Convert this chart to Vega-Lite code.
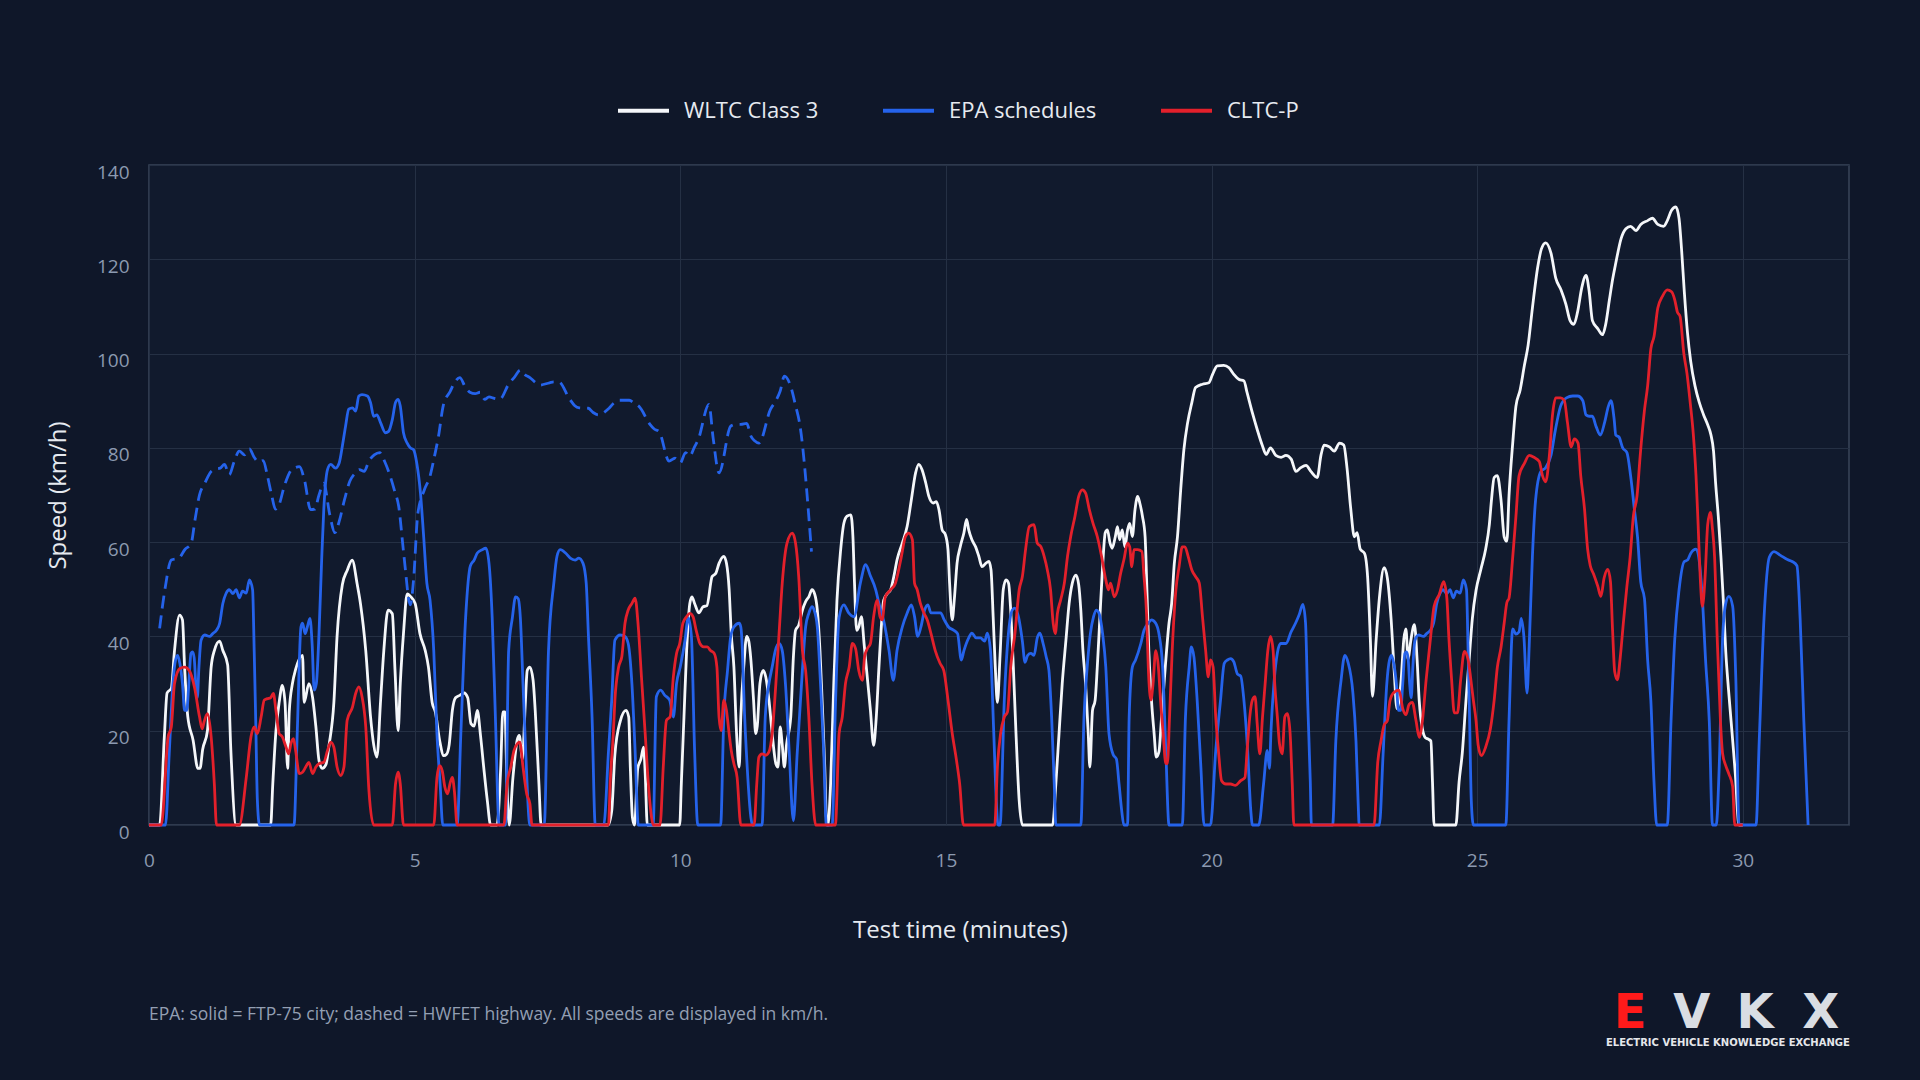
{
"$schema": "https://vega.github.io/schema/vega-lite/v6.json",
"width": 1700,
"height": 660,
"autosize": {"type": "none"},
"padding": {"left": 149, "top": 165, "right": 71, "bottom": 255},
"background": "#0f1729",
"config": {
  "font": "Open Sans",
  "view": {"fill": "#111a2d", "stroke": "#3a4559", "strokeWidth": 1.5},
  "axis": {"gridColor": "#253044", "gridWidth": 1, "domain": false, "ticks": false, "labelColor": "#8c9ab0", "labelFontSize": 19, "titleColor": "#e6eaf0", "titleFontSize": 24, "titleFontWeight": "normal"}
},
"datasets": {
"wltc": [{"t":0,"v":0},{"t":0.2,"v":0},{"t":0.29,"v":19},{"t":0.34,"v":28},{"t":0.42,"v":29},{"t":0.48,"v":37},{"t":0.575,"v":44.5},{"t":0.63,"v":43.5},{"t":0.67,"v":33.5},{"t":0.73,"v":23},{"t":0.83,"v":18},{"t":0.92,"v":12},{"t":0.96,"v":12},{"t":1.01,"v":16},{"t":1.1,"v":20},{"t":1.17,"v":33.5},{"t":1.23,"v":37},{"t":1.33,"v":39},{"t":1.39,"v":37},{"t":1.48,"v":34},{"t":1.54,"v":16},{"t":1.64,"v":0},{"t":2.29,"v":0},{"t":2.33,"v":8.7},{"t":2.39,"v":20},{"t":2.45,"v":26},{"t":2.51,"v":29.6},{"t":2.56,"v":26},{"t":2.61,"v":12},{"t":2.64,"v":24},{"t":2.7,"v":30},{"t":2.76,"v":33},{"t":2.89,"v":36},{"t":2.92,"v":26},{"t":3.01,"v":30},{"t":3.08,"v":27},{"t":3.14,"v":21},{"t":3.2,"v":13.7},{"t":3.26,"v":12},{"t":3.33,"v":12.8},{"t":3.39,"v":17},{"t":3.48,"v":26},{"t":3.54,"v":40},{"t":3.64,"v":51},{"t":3.73,"v":54},{"t":3.825,"v":56.2},{"t":3.92,"v":51},{"t":3.98,"v":47},{"t":4.08,"v":37},{"t":4.17,"v":23},{"t":4.23,"v":17},{"t":4.29,"v":14.4},{"t":4.36,"v":26.5},{"t":4.42,"v":37},{"t":4.5,"v":45.6},{"t":4.58,"v":44.8},{"t":4.63,"v":33},{"t":4.69,"v":20},{"t":4.73,"v":30},{"t":4.79,"v":40.6},{"t":4.86,"v":49},{"t":4.92,"v":48.5},{"t":5.01,"v":47},{"t":5.1,"v":40.6},{"t":5.2,"v":37},{"t":5.26,"v":33.5},{"t":5.33,"v":26},{"t":5.39,"v":24},{"t":5.47,"v":18},{"t":5.55,"v":14.7},{"t":5.6,"v":15},{"t":5.65,"v":17},{"t":5.71,"v":24.3},{"t":5.77,"v":27},{"t":5.85,"v":27.5},{"t":5.93,"v":28},{"t":6.0,"v":27},{"t":6.06,"v":21.5},{"t":6.12,"v":21},{"t":6.18,"v":24.3},{"t":6.24,"v":19},{"t":6.3,"v":12.3},{"t":6.37,"v":5},{"t":6.43,"v":0},{"t":6.55,"v":0},{"t":6.62,"v":12},{"t":6.66,"v":24},{"t":6.7,"v":24},{"t":6.74,"v":8},{"t":6.78,"v":0},{"t":6.85,"v":10},{"t":6.93,"v":18},{"t":6.97,"v":19},{"t":7.03,"v":14},{"t":7.08,"v":25},{"t":7.12,"v":32.8},{"t":7.17,"v":33.5},{"t":7.23,"v":30.7},{"t":7.27,"v":24.3},{"t":7.34,"v":8.7},{"t":7.38,"v":0},{"t":8.64,"v":0},{"t":8.71,"v":3},{"t":8.77,"v":15},{"t":8.87,"v":22},{"t":8.98,"v":24.3},{"t":9.03,"v":22.9},{"t":9.06,"v":12.3},{"t":9.1,"v":1.6},{"t":9.14,"v":0},{"t":9.2,"v":12},{"t":9.26,"v":14},{"t":9.31,"v":16.5},{"t":9.34,"v":11},{"t":9.38,"v":0},{"t":9.99,"v":0},{"t":10.02,"v":8.7},{"t":10.07,"v":22.9},{"t":10.12,"v":37},{"t":10.18,"v":47},{"t":10.22,"v":48.4},{"t":10.27,"v":47},{"t":10.35,"v":45},{"t":10.43,"v":46.3},{"t":10.5,"v":46.5},{"t":10.6,"v":52.7},{"t":10.67,"v":53.4},{"t":10.73,"v":55.5},{"t":10.82,"v":57},{"t":10.87,"v":55.5},{"t":10.92,"v":50},{"t":10.96,"v":40.6},{"t":11.01,"v":33.5},{"t":11.06,"v":19.4},{"t":11.11,"v":12.3},{"t":11.14,"v":22.9},{"t":11.2,"v":34.3},{"t":11.25,"v":40},{"t":11.29,"v":39},{"t":11.33,"v":35},{"t":11.38,"v":26.5},{"t":11.42,"v":19.4},{"t":11.45,"v":21},{"t":11.5,"v":30},{"t":11.56,"v":32.8},{"t":11.61,"v":31.4},{"t":11.67,"v":26.5},{"t":11.73,"v":19.4},{"t":11.8,"v":13},{"t":11.84,"v":12.3},{"t":11.88,"v":20.8},{"t":11.92,"v":17},{"t":11.96,"v":12.3},{"t":12.0,"v":17},{"t":12.08,"v":22.9},{"t":12.13,"v":35.7},{"t":12.17,"v":41.3},{"t":12.23,"v":42.4},{"t":12.3,"v":45.6},{"t":12.36,"v":47.4},{"t":12.42,"v":48.4},{"t":12.48,"v":49.9},{"t":12.53,"v":49},{"t":12.58,"v":45.6},{"t":12.63,"v":37},{"t":12.67,"v":26.5},{"t":12.72,"v":12.3},{"t":12.75,"v":1.6},{"t":12.78,"v":0},{"t":12.83,"v":8.7},{"t":12.89,"v":30},{"t":12.95,"v":47.7},{"t":13.02,"v":58.4},{"t":13.08,"v":64},{"t":13.14,"v":65.5},{"t":13.21,"v":65.8},{"t":13.25,"v":61.2},{"t":13.28,"v":51.3},{"t":13.32,"v":41.3},{"t":13.36,"v":42},{"t":13.41,"v":44.2},{"t":13.46,"v":38.5},{"t":13.52,"v":31.4},{"t":13.58,"v":24.3},{"t":13.64,"v":16.9},{"t":13.69,"v":22.9},{"t":13.74,"v":33.5},{"t":13.78,"v":41.3},{"t":13.83,"v":47.7},{"t":13.9,"v":49.1},{"t":13.96,"v":49.9},{"t":14.02,"v":52.7},{"t":14.08,"v":56.2},{"t":14.18,"v":59.8},{"t":14.27,"v":63.3},{"t":14.35,"v":69},{"t":14.43,"v":74.7},{"t":14.49,"v":76.5},{"t":14.55,"v":75.4},{"t":14.62,"v":72.6},{"t":14.68,"v":69.7},{"t":14.76,"v":68.3},{"t":14.82,"v":68.6},{"t":14.87,"v":66.9},{"t":14.93,"v":62.6},{"t":14.99,"v":61.6},{"t":15.04,"v":58.4},{"t":15.07,"v":51.3},{"t":15.12,"v":43.5},{"t":15.16,"v":48},{"t":15.21,"v":55.5},{"t":15.27,"v":59},{"t":15.34,"v":62},{"t":15.39,"v":64.8},{"t":15.43,"v":62.6},{"t":15.49,"v":60.5},{"t":15.56,"v":59},{"t":15.62,"v":57},{"t":15.68,"v":54.8},{"t":15.75,"v":55.5},{"t":15.81,"v":55.9},{"t":15.85,"v":54.1},{"t":15.89,"v":44.2},{"t":15.93,"v":33.5},{"t":15.97,"v":26},{"t":16.02,"v":36},{"t":16.08,"v":49.9},{"t":16.13,"v":52},{"t":16.18,"v":51.3},{"t":16.22,"v":45.6},{"t":16.27,"v":33.5},{"t":16.32,"v":19.4},{"t":16.38,"v":5.2},{"t":16.44,"v":0},{"t":17.01,"v":0},{"t":17.07,"v":8.7},{"t":17.13,"v":19.4},{"t":17.19,"v":30},{"t":17.26,"v":39.2},{"t":17.32,"v":47},{"t":17.38,"v":51.3},{"t":17.45,"v":53},{"t":17.5,"v":51},{"t":17.54,"v":45.6},{"t":17.58,"v":37},{"t":17.63,"v":30},{"t":17.68,"v":19.4},{"t":17.71,"v":12.3},{"t":17.76,"v":24.3},{"t":17.81,"v":26.5},{"t":17.85,"v":33.5},{"t":17.9,"v":44.2},{"t":17.95,"v":54.8},{"t":18.0,"v":62},{"t":18.04,"v":62.6},{"t":18.09,"v":59.8},{"t":18.13,"v":58.7},{"t":18.19,"v":61.2},{"t":18.23,"v":63.3},{"t":18.27,"v":60.5},{"t":18.32,"v":62.6},{"t":18.37,"v":59},{"t":18.42,"v":62.6},{"t":18.46,"v":64},{"t":18.51,"v":61.2},{"t":18.56,"v":66.9},{"t":18.61,"v":69.7},{"t":18.65,"v":68.3},{"t":18.7,"v":65.5},{"t":18.75,"v":61.2},{"t":18.79,"v":47.7},{"t":18.82,"v":37},{"t":18.87,"v":26.5},{"t":18.92,"v":19.4},{"t":18.96,"v":14.4},{"t":19.01,"v":15.5},{"t":19.06,"v":22.9},{"t":19.13,"v":33.5},{"t":19.2,"v":42.8},{"t":19.25,"v":47},{"t":19.3,"v":55.5},{"t":19.36,"v":61.2},{"t":19.42,"v":71.1},{"t":19.48,"v":79.6},{"t":19.55,"v":85.3},{"t":19.63,"v":89.6},{"t":19.7,"v":92.8},{"t":19.83,"v":93.5},{"t":19.95,"v":93.8},{"t":20.02,"v":95.6},{"t":20.11,"v":97.4},{"t":20.23,"v":97.5},{"t":20.33,"v":97},{"t":20.42,"v":95.6},{"t":20.52,"v":94.5},{"t":20.61,"v":94.2},{"t":20.67,"v":91.7},{"t":20.77,"v":87.4},{"t":20.86,"v":83.9},{"t":20.96,"v":80.4},{"t":21.03,"v":78.6},{"t":21.11,"v":80},{"t":21.21,"v":78.4},{"t":21.31,"v":78},{"t":21.4,"v":78.4},{"t":21.5,"v":77.6},{"t":21.59,"v":75},{"t":21.68,"v":75.8},{"t":21.78,"v":76.3},{"t":21.87,"v":75},{"t":21.99,"v":73.7},{"t":22.06,"v":78.4},{"t":22.12,"v":80.6},{"t":22.22,"v":80.2},{"t":22.31,"v":79.3},{"t":22.41,"v":81},{"t":22.49,"v":80.6},{"t":22.55,"v":75.8},{"t":22.62,"v":67.2},{"t":22.69,"v":61.1},{"t":22.74,"v":62},{"t":22.8,"v":58.5},{"t":22.88,"v":57.6},{"t":22.94,"v":52.4},{"t":22.99,"v":39.4},{"t":23.03,"v":27.3},{"t":23.1,"v":39.4},{"t":23.16,"v":48.1},{"t":23.25,"v":54.6},{"t":23.31,"v":52.4},{"t":23.38,"v":43.8},{"t":23.44,"v":32.5},{"t":23.49,"v":24.7},{"t":23.57,"v":30.8},{"t":23.62,"v":39.4},{"t":23.66,"v":41.6},{"t":23.7,"v":35.1},{"t":23.75,"v":39},{"t":23.82,"v":42.5},{"t":23.87,"v":35.1},{"t":23.91,"v":26.4},{"t":23.97,"v":20.4},{"t":24.02,"v":18.6},{"t":24.08,"v":18.2},{"t":24.13,"v":17.8},{"t":24.16,"v":9.1},{"t":24.19,"v":0},{"t":24.6,"v":0},{"t":24.66,"v":9.1},{"t":24.72,"v":15.2},{"t":24.79,"v":26.4},{"t":24.85,"v":35.1},{"t":24.91,"v":43.8},{"t":24.98,"v":49.8},{"t":25.07,"v":54.2},{"t":25.16,"v":58.5},{"t":25.23,"v":63.7},{"t":25.27,"v":68.9},{"t":25.32,"v":73.7},{"t":25.38,"v":74.1},{"t":25.45,"v":68.9},{"t":25.51,"v":61.1},{"t":25.56,"v":60.2},{"t":25.6,"v":69.8},{"t":25.67,"v":81},{"t":25.73,"v":88.8},{"t":25.81,"v":92.3},{"t":25.89,"v":97.5},{"t":25.96,"v":101.8},{"t":26.04,"v":109.6},{"t":26.14,"v":118.3},{"t":26.21,"v":122.2},{"t":26.29,"v":123.5},{"t":26.39,"v":121.3},{"t":26.48,"v":116},{"t":26.58,"v":113.5},{"t":26.67,"v":110.5},{"t":26.75,"v":107},{"t":26.82,"v":106.2},{"t":26.89,"v":108.8},{"t":26.97,"v":114},{"t":27.05,"v":116.6},{"t":27.11,"v":113.1},{"t":27.17,"v":107},{"t":27.27,"v":105.3},{"t":27.36,"v":104},{"t":27.42,"v":106.2},{"t":27.49,"v":111.4},{"t":27.55,"v":115.7},{"t":27.61,"v":119.2},{"t":27.71,"v":124.4},{"t":27.8,"v":126.5},{"t":27.89,"v":127},{"t":27.99,"v":126.1},{"t":28.08,"v":127.4},{"t":28.21,"v":128.2},{"t":28.3,"v":128.7},{"t":28.4,"v":127.4},{"t":28.51,"v":127},{"t":28.58,"v":128.2},{"t":28.66,"v":130.4},{"t":28.74,"v":131.1},{"t":28.8,"v":128.7},{"t":28.85,"v":121.8},{"t":28.9,"v":113.1},{"t":28.96,"v":104.4},{"t":29.02,"v":98.4},{"t":29.1,"v":93.2},{"t":29.18,"v":89.7},{"t":29.26,"v":87.1},{"t":29.34,"v":84.9},{"t":29.4,"v":82.8},{"t":29.45,"v":79.3},{"t":29.49,"v":72.4},{"t":29.54,"v":65.4},{"t":29.59,"v":56.8},{"t":29.64,"v":46.4},{"t":29.68,"v":36.8},{"t":29.73,"v":29},{"t":29.78,"v":22.1},{"t":29.83,"v":15.2},{"t":29.87,"v":9.1},{"t":29.9,"v":3},{"t":29.93,"v":0},{"t":30,"v":0}],
"ftp": [{"t":0,"v":0},{"t":0.31,"v":0},{"t":0.38,"v":15},{"t":0.45,"v":30},{"t":0.5,"v":35},{"t":0.54,"v":36},{"t":0.58,"v":34.3},{"t":0.63,"v":30},{"t":0.67,"v":24.3},{"t":0.71,"v":24.3},{"t":0.75,"v":30},{"t":0.79,"v":36.4},{"t":0.82,"v":36.7},{"t":0.85,"v":35.5},{"t":0.88,"v":30},{"t":0.91,"v":27},{"t":0.94,"v":33.5},{"t":0.98,"v":39.2},{"t":1.05,"v":40.3},{"t":1.14,"v":40},{"t":1.2,"v":40.6},{"t":1.27,"v":41.3},{"t":1.33,"v":42.8},{"t":1.39,"v":47},{"t":1.45,"v":49.1},{"t":1.51,"v":49.9},{"t":1.58,"v":49.1},{"t":1.64,"v":49.9},{"t":1.7,"v":48.2},{"t":1.76,"v":49.6},{"t":1.83,"v":49.2},{"t":1.89,"v":52},{"t":1.95,"v":49.9},{"t":1.98,"v":37},{"t":2.01,"v":21.5},{"t":2.04,"v":5.2},{"t":2.08,"v":0},{"t":2.73,"v":0},{"t":2.79,"v":19.4},{"t":2.86,"v":42},{"t":2.89,"v":42.8},{"t":2.94,"v":40.6},{"t":2.98,"v":42},{"t":3.03,"v":43.8},{"t":3.07,"v":38.5},{"t":3.11,"v":28.6},{"t":3.15,"v":30},{"t":3.2,"v":40.6},{"t":3.25,"v":56.2},{"t":3.29,"v":66.9},{"t":3.36,"v":75.4},{"t":3.42,"v":76.5},{"t":3.51,"v":75.7},{"t":3.58,"v":76.8},{"t":3.64,"v":80.4},{"t":3.7,"v":84.6},{"t":3.76,"v":88.2},{"t":3.83,"v":88.5},{"t":3.89,"v":87.8},{"t":3.95,"v":91},{"t":4.01,"v":91.3},{"t":4.11,"v":91},{"t":4.17,"v":89.6},{"t":4.23,"v":86.7},{"t":4.29,"v":87},{"t":4.36,"v":85.3},{"t":4.45,"v":83.2},{"t":4.51,"v":83.5},{"t":4.58,"v":86},{"t":4.64,"v":89.6},{"t":4.69,"v":90.3},{"t":4.73,"v":88.9},{"t":4.79,"v":83.2},{"t":4.86,"v":81},{"t":4.92,"v":80},{"t":4.98,"v":79.6},{"t":5.04,"v":76.8},{"t":5.11,"v":70.4},{"t":5.17,"v":61.2},{"t":5.23,"v":51.3},{"t":5.29,"v":47.7},{"t":5.36,"v":37},{"t":5.42,"v":19.4},{"t":5.48,"v":8.7},{"t":5.53,"v":0},{"t":5.8,"v":0},{"t":5.87,"v":19.4},{"t":5.96,"v":44},{"t":6.05,"v":55},{"t":6.12,"v":56.2},{"t":6.18,"v":57.7},{"t":6.27,"v":58.4},{"t":6.34,"v":58.7},{"t":6.4,"v":55.5},{"t":6.46,"v":44},{"t":6.52,"v":23},{"t":6.59,"v":0},{"t":6.71,"v":0},{"t":6.77,"v":37},{"t":6.84,"v":44},{"t":6.9,"v":48.4},{"t":6.95,"v":48},{"t":6.99,"v":44},{"t":7.04,"v":30},{"t":7.09,"v":15.8},{"t":7.17,"v":0},{"t":7.44,"v":0},{"t":7.52,"v":37},{"t":7.62,"v":51.3},{"t":7.68,"v":57},{"t":7.74,"v":58.4},{"t":7.84,"v":57.7},{"t":7.93,"v":56.6},{"t":8.02,"v":56.2},{"t":8.09,"v":56.6},{"t":8.17,"v":55.5},{"t":8.23,"v":51.3},{"t":8.27,"v":40.6},{"t":8.34,"v":22.9},{"t":8.4,"v":0},{"t":8.56,"v":0},{"t":8.65,"v":15.8},{"t":8.71,"v":26.5},{"t":8.77,"v":39.2},{"t":8.87,"v":40.3},{"t":8.96,"v":40},{"t":9.02,"v":38.5},{"t":9.09,"v":30},{"t":9.15,"v":15.8},{"t":9.21,"v":0},{"t":9.49,"v":0},{"t":9.55,"v":27.2},{"t":9.63,"v":28.6},{"t":9.71,"v":27.5},{"t":9.8,"v":26.5},{"t":9.87,"v":22.9},{"t":9.93,"v":30},{"t":10.0,"v":33.5},{"t":10.09,"v":39.2},{"t":10.15,"v":44},{"t":10.21,"v":40},{"t":10.27,"v":15.8},{"t":10.33,"v":0},{"t":10.76,"v":0},{"t":10.82,"v":22.9},{"t":10.89,"v":32.8},{"t":10.95,"v":40},{"t":11.01,"v":42},{"t":11.11,"v":42.8},{"t":11.14,"v":42},{"t":11.17,"v":37},{"t":11.2,"v":26.5},{"t":11.26,"v":12.3},{"t":11.33,"v":1.6},{"t":11.36,"v":0},{"t":11.54,"v":0},{"t":11.6,"v":22.9},{"t":11.67,"v":30},{"t":11.73,"v":33.5},{"t":11.79,"v":37},{"t":11.86,"v":38.5},{"t":11.92,"v":37},{"t":11.98,"v":30},{"t":12.05,"v":15.8},{"t":12.13,"v":0.9},{"t":12.2,"v":15},{"t":12.3,"v":33},{"t":12.36,"v":42},{"t":12.42,"v":44.9},{"t":12.48,"v":46.3},{"t":12.52,"v":45.6},{"t":12.58,"v":42},{"t":12.64,"v":30},{"t":12.7,"v":15.8},{"t":12.75,"v":0},{"t":12.86,"v":0},{"t":12.92,"v":25},{"t":12.99,"v":44},{"t":13.08,"v":46.7},{"t":13.17,"v":45},{"t":13.27,"v":44.2},{"t":13.39,"v":51.3},{"t":13.49,"v":55.2},{"t":13.58,"v":52.8},{"t":13.68,"v":49.9},{"t":13.74,"v":47},{"t":13.84,"v":42.8},{"t":13.93,"v":37},{"t":14.01,"v":30.7},{"t":14.08,"v":37},{"t":14.18,"v":42},{"t":14.27,"v":44.9},{"t":14.35,"v":46.7},{"t":14.41,"v":44.2},{"t":14.47,"v":40},{"t":14.53,"v":42},{"t":14.6,"v":45.6},{"t":14.66,"v":46.7},{"t":14.72,"v":45},{"t":14.8,"v":45},{"t":14.9,"v":45},{"t":14.97,"v":43.5},{"t":15.05,"v":42},{"t":15.15,"v":41.3},{"t":15.22,"v":40.6},{"t":15.29,"v":35},{"t":15.34,"v":37},{"t":15.43,"v":39.7},{"t":15.49,"v":40.7},{"t":15.57,"v":39.7},{"t":15.65,"v":39.7},{"t":15.73,"v":39},{"t":15.78,"v":40.7},{"t":15.84,"v":37},{"t":15.9,"v":20},{"t":15.95,"v":5},{"t":15.98,"v":0},{"t":16.02,"v":0},{"t":16.1,"v":26.5},{"t":16.19,"v":42},{"t":16.25,"v":45.6},{"t":16.3,"v":46},{"t":16.37,"v":44},{"t":16.44,"v":39},{"t":16.49,"v":34.5},{"t":16.54,"v":36},{"t":16.6,"v":36.4},{"t":16.66,"v":36},{"t":16.72,"v":39.7},{"t":16.77,"v":40.7},{"t":16.83,"v":38.5},{"t":16.89,"v":35.6},{"t":16.94,"v":32.8},{"t":16.99,"v":23},{"t":17.04,"v":8.7},{"t":17.07,"v":0},{"t":17.54,"v":0},{"t":17.6,"v":22.9},{"t":17.66,"v":33.5},{"t":17.72,"v":40.6},{"t":17.78,"v":44.2},{"t":17.83,"v":45.6},{"t":17.88,"v":45},{"t":17.95,"v":40.6},{"t":18.01,"v":33.5},{"t":18.07,"v":19.4},{"t":18.15,"v":14.9},{"t":18.21,"v":14},{"t":18.26,"v":8.7},{"t":18.31,"v":3},{"t":18.35,"v":0},{"t":18.42,"v":0},{"t":18.45,"v":22.9},{"t":18.51,"v":33.5},{"t":18.57,"v":35},{"t":18.67,"v":38.5},{"t":18.73,"v":41.3},{"t":18.81,"v":42.8},{"t":18.87,"v":43.5},{"t":18.95,"v":42.8},{"t":19.01,"v":40.6},{"t":19.08,"v":33.5},{"t":19.14,"v":15.8},{"t":19.2,"v":0},{"t":19.45,"v":0},{"t":19.51,"v":22.9},{"t":19.58,"v":33.5},{"t":19.62,"v":37.8},{"t":19.67,"v":35.6},{"t":19.73,"v":26.5},{"t":19.8,"v":12.3},{"t":19.86,"v":0},{"t":19.98,"v":0},{"t":20.08,"v":15.8},{"t":20.17,"v":26.5},{"t":20.24,"v":34.3},{"t":20.3,"v":35},{"t":20.36,"v":35.3},{"t":20.42,"v":34.6},{"t":20.49,"v":32},{"t":20.55,"v":31.6},{"t":20.61,"v":26.5},{"t":20.68,"v":15.8},{"t":20.74,"v":3},{"t":20.77,"v":0},{"t":20.89,"v":0},{"t":20.98,"v":8.7},{"t":21.05,"v":15.8},{"t":21.09,"v":12},{"t":21.12,"v":20},{"t":21.18,"v":30.7},{"t":21.24,"v":36.5},{"t":21.3,"v":38.5},{"t":21.4,"v":38.5},{"t":21.5,"v":41},{"t":21.59,"v":43},{"t":21.65,"v":44.6},{"t":21.72,"v":46.8},{"t":21.77,"v":42.9},{"t":21.81,"v":26.4},{"t":21.86,"v":9},{"t":21.88,"v":0},{"t":22.28,"v":0},{"t":22.34,"v":17.8},{"t":22.44,"v":30.8},{"t":22.51,"v":36},{"t":22.57,"v":34.5},{"t":22.66,"v":28.2},{"t":22.72,"v":17.8},{"t":22.76,"v":4.8},{"t":22.78,"v":0},{"t":23.16,"v":0},{"t":23.23,"v":15},{"t":23.3,"v":30},{"t":23.35,"v":35},{"t":23.39,"v":36},{"t":23.43,"v":34.3},{"t":23.48,"v":30},{"t":23.52,"v":24.3},{"t":23.56,"v":24.3},{"t":23.6,"v":30},{"t":23.64,"v":36.4},{"t":23.67,"v":36.7},{"t":23.7,"v":35.5},{"t":23.73,"v":30},{"t":23.76,"v":27},{"t":23.79,"v":33.5},{"t":23.83,"v":39.2},{"t":23.9,"v":40.3},{"t":23.99,"v":40},{"t":24.05,"v":40.6},{"t":24.12,"v":41.3},{"t":24.18,"v":42.8},{"t":24.24,"v":47},{"t":24.3,"v":49.1},{"t":24.36,"v":49.9},{"t":24.43,"v":49.1},{"t":24.49,"v":49.9},{"t":24.55,"v":48.2},{"t":24.61,"v":49.6},{"t":24.68,"v":49.2},{"t":24.74,"v":52},{"t":24.8,"v":49.9},{"t":24.83,"v":37},{"t":24.86,"v":21.5},{"t":24.89,"v":5.2},{"t":24.93,"v":0},{"t":25.54,"v":0},{"t":25.6,"v":22},{"t":25.67,"v":41.6},{"t":25.73,"v":40.5},{"t":25.79,"v":41},{"t":25.83,"v":43.8},{"t":25.88,"v":40},{"t":25.94,"v":28},{"t":25.98,"v":38},{"t":26.04,"v":56.8},{"t":26.1,"v":68.9},{"t":26.2,"v":75},{"t":26.29,"v":75.8},{"t":26.39,"v":78.4},{"t":26.47,"v":83.6},{"t":26.57,"v":88.8},{"t":26.68,"v":90.6},{"t":26.8,"v":91},{"t":26.89,"v":91},{"t":26.99,"v":90},{"t":27.05,"v":87},{"t":27.11,"v":86.7},{"t":27.17,"v":86.7},{"t":27.24,"v":84.5},{"t":27.32,"v":82.7},{"t":27.4,"v":85.4},{"t":27.47,"v":88.8},{"t":27.52,"v":90},{"t":27.58,"v":86},{"t":27.61,"v":82.7},{"t":27.67,"v":82.3},{"t":27.74,"v":80},{"t":27.82,"v":79},{"t":27.89,"v":74},{"t":27.96,"v":67},{"t":28.02,"v":61},{"t":28.08,"v":51.6},{"t":28.15,"v":48},{"t":28.21,"v":35},{"t":28.27,"v":26.4},{"t":28.33,"v":9},{"t":28.38,"v":0},{"t":28.58,"v":0},{"t":28.65,"v":22},{"t":28.72,"v":39.4},{"t":28.8,"v":49.8},{"t":28.9,"v":55.9},{"t":28.96,"v":56.2},{"t":29.02,"v":57.6},{"t":29.12,"v":58.5},{"t":29.15,"v":58},{"t":29.24,"v":48},{"t":29.3,"v":35},{"t":29.37,"v":22},{"t":29.43,"v":0},{"t":29.5,"v":0},{"t":29.56,"v":13.4},{"t":29.62,"v":39.4},{"t":29.68,"v":47},{"t":29.74,"v":48.5},{"t":29.81,"v":46.4},{"t":29.87,"v":30.8},{"t":29.93,"v":0},{"t":30.25,"v":0},{"t":30.31,"v":17.8},{"t":30.4,"v":43.8},{"t":30.5,"v":56.8},{"t":30.59,"v":58},{"t":30.71,"v":57.2},{"t":30.84,"v":56.3},{"t":30.93,"v":55.9},{"t":31.02,"v":55},{"t":31.08,"v":43.8},{"t":31.15,"v":22},{"t":31.23,"v":0}],
"hwfet": [{"t":0.2,"v":41.7},{"t":0.3,"v":50},{"t":0.42,"v":56.2},{"t":0.56,"v":56.6},{"t":0.68,"v":58.5},{"t":0.79,"v":59.6},{"t":0.87,"v":65},{"t":0.95,"v":70},{"t":1.05,"v":72.5},{"t":1.17,"v":75},{"t":1.26,"v":75.5},{"t":1.34,"v":75.7},{"t":1.42,"v":76.5},{"t":1.51,"v":74.3},{"t":1.6,"v":77},{"t":1.7,"v":79.3},{"t":1.8,"v":78.5},{"t":1.89,"v":79.8},{"t":1.98,"v":78},{"t":2.06,"v":77},{"t":2.15,"v":77.3},{"t":2.23,"v":74},{"t":2.31,"v":69.9},{"t":2.38,"v":67},{"t":2.44,"v":67.7},{"t":2.55,"v":72},{"t":2.67,"v":75.2},{"t":2.75,"v":75.8},{"t":2.83,"v":76},{"t":2.93,"v":73},{"t":3.04,"v":66.9},{"t":3.12,"v":67},{"t":3.2,"v":70},{"t":3.29,"v":72.5},{"t":3.4,"v":66},{"t":3.5,"v":62},{"t":3.58,"v":64.4},{"t":3.68,"v":69},{"t":3.78,"v":72.9},{"t":3.87,"v":74.5},{"t":3.96,"v":75.4},{"t":4.05,"v":75},{"t":4.14,"v":77.2},{"t":4.24,"v":78.5},{"t":4.34,"v":79},{"t":4.44,"v":77},{"t":4.54,"v":74},{"t":4.62,"v":71},{"t":4.7,"v":67.6},{"t":4.8,"v":57},{"t":4.92,"v":46.7},{"t":4.98,"v":52},{"t":5.06,"v":66},{"t":5.18,"v":71},{"t":5.29,"v":74},{"t":5.37,"v":78},{"t":5.45,"v":82.5},{"t":5.54,"v":89},{"t":5.67,"v":92},{"t":5.76,"v":94},{"t":5.85,"v":94.9},{"t":5.95,"v":93},{"t":6.04,"v":91.8},{"t":6.14,"v":91.5},{"t":6.23,"v":91.8},{"t":6.32,"v":90.3},{"t":6.4,"v":90.8},{"t":6.5,"v":90.5},{"t":6.6,"v":90.3},{"t":6.77,"v":93.5},{"t":6.88,"v":95},{"t":6.99,"v":96.5},{"t":7.08,"v":95.5},{"t":7.17,"v":94.9},{"t":7.26,"v":94},{"t":7.35,"v":93.3},{"t":7.54,"v":93.8},{"t":7.62,"v":94},{"t":7.71,"v":94},{"t":7.92,"v":90.3},{"t":8.01,"v":89},{"t":8.1,"v":88.5},{"t":8.27,"v":88.4},{"t":8.36,"v":87.5},{"t":8.46,"v":87},{"t":8.65,"v":88.3},{"t":8.75,"v":89.5},{"t":8.86,"v":90.1},{"t":9.04,"v":90.1},{"t":9.13,"v":89.5},{"t":9.23,"v":88.7},{"t":9.43,"v":85},{"t":9.51,"v":84},{"t":9.6,"v":83.5},{"t":9.79,"v":77.2},{"t":9.9,"v":77.8},{"t":10.0,"v":76.8},{"t":10.1,"v":79},{"t":10.18,"v":78.2},{"t":10.26,"v":80},{"t":10.34,"v":81.8},{"t":10.54,"v":89.2},{"t":10.62,"v":82},{"t":10.73,"v":74.7},{"t":10.95,"v":84.6},{"t":11.04,"v":85},{"t":11.14,"v":85},{"t":11.25,"v":85.2},{"t":11.33,"v":82.5},{"t":11.4,"v":81.5},{"t":11.48,"v":81},{"t":11.7,"v":88.2},{"t":11.8,"v":90},{"t":11.88,"v":92},{"t":11.96,"v":95.2},{"t":12.08,"v":93},{"t":12.17,"v":89},{"t":12.25,"v":85},{"t":12.47,"v":58}],
"cltc": [{"t":0,"v":0},{"t":0.23,"v":0},{"t":0.36,"v":18.7},{"t":0.42,"v":20.8},{"t":0.48,"v":30},{"t":0.58,"v":33.2},{"t":0.67,"v":33.5},{"t":0.77,"v":32.5},{"t":0.86,"v":29},{"t":0.95,"v":23},{"t":1.0,"v":20.4},{"t":1.04,"v":22},{"t":1.1,"v":23.6},{"t":1.17,"v":18.7},{"t":1.23,"v":8.7},{"t":1.27,"v":0},{"t":1.7,"v":0},{"t":1.83,"v":10},{"t":1.92,"v":18.7},{"t":1.98,"v":20.8},{"t":2.04,"v":19.4},{"t":2.11,"v":22.9},{"t":2.17,"v":26.5},{"t":2.23,"v":26.8},{"t":2.29,"v":27},{"t":2.34,"v":27.9},{"t":2.39,"v":24.3},{"t":2.45,"v":19.4},{"t":2.51,"v":18.7},{"t":2.58,"v":16.5},{"t":2.63,"v":15.1},{"t":2.67,"v":17.2},{"t":2.72,"v":18.3},{"t":2.76,"v":15.8},{"t":2.83,"v":10.9},{"t":2.89,"v":11.2},{"t":2.95,"v":12.3},{"t":3.01,"v":13.3},{"t":3.08,"v":10.9},{"t":3.14,"v":12.3},{"t":3.2,"v":13},{"t":3.29,"v":13.3},{"t":3.36,"v":15.8},{"t":3.42,"v":17.6},{"t":3.48,"v":16.5},{"t":3.54,"v":12.3},{"t":3.61,"v":10.5},{"t":3.67,"v":12.3},{"t":3.73,"v":22.2},{"t":3.83,"v":25},{"t":3.89,"v":27.9},{"t":3.95,"v":29.3},{"t":4.01,"v":27.2},{"t":4.08,"v":20.8},{"t":4.14,"v":7.3},{"t":4.23,"v":0},{"t":4.58,"v":0},{"t":4.64,"v":8.7},{"t":4.69,"v":11.2},{"t":4.73,"v":8.7},{"t":4.79,"v":0},{"t":5.36,"v":0},{"t":5.42,"v":10},{"t":5.47,"v":12.6},{"t":5.52,"v":11.5},{"t":5.57,"v":8},{"t":5.62,"v":6.6},{"t":5.67,"v":9},{"t":5.71,"v":10.1},{"t":5.75,"v":7},{"t":5.8,"v":0},{"t":6.68,"v":0},{"t":6.74,"v":8.7},{"t":6.81,"v":12.3},{"t":6.87,"v":15.8},{"t":6.93,"v":17.2},{"t":6.98,"v":17.6},{"t":7.04,"v":12.3},{"t":7.11,"v":6.6},{"t":7.17,"v":4.5},{"t":7.21,"v":0},{"t":8.65,"v":0},{"t":8.68,"v":8.7},{"t":8.74,"v":19.4},{"t":8.77,"v":26.5},{"t":8.84,"v":33.5},{"t":8.9,"v":35.7},{"t":8.96,"v":42.8},{"t":9.02,"v":45.6},{"t":9.09,"v":47},{"t":9.15,"v":48.1},{"t":9.21,"v":42},{"t":9.27,"v":31.4},{"t":9.34,"v":19.4},{"t":9.4,"v":8.7},{"t":9.46,"v":1.6},{"t":9.49,"v":0},{"t":9.62,"v":0},{"t":9.68,"v":12.3},{"t":9.74,"v":22.2},{"t":9.81,"v":23},{"t":9.87,"v":31.4},{"t":9.93,"v":36.4},{"t":9.99,"v":38.5},{"t":10.05,"v":42.8},{"t":10.12,"v":44.2},{"t":10.18,"v":44.9},{"t":10.24,"v":44.2},{"t":10.3,"v":41.3},{"t":10.37,"v":38.5},{"t":10.44,"v":37.8},{"t":10.51,"v":37.8},{"t":10.57,"v":37},{"t":10.64,"v":36.4},{"t":10.69,"v":33.5},{"t":10.73,"v":22.9},{"t":10.77,"v":20},{"t":10.82,"v":26.5},{"t":10.87,"v":24.3},{"t":10.92,"v":19.4},{"t":10.96,"v":15.8},{"t":11.01,"v":13},{"t":11.07,"v":10.1},{"t":11.14,"v":0},{"t":11.39,"v":0},{"t":11.44,"v":8.7},{"t":11.48,"v":14.4},{"t":11.54,"v":15.1},{"t":11.61,"v":14.8},{"t":11.67,"v":15.5},{"t":11.73,"v":19.4},{"t":11.8,"v":30},{"t":11.86,"v":40.6},{"t":11.92,"v":51.3},{"t":12.01,"v":59.8},{"t":12.11,"v":61.9},{"t":12.17,"v":59.8},{"t":12.23,"v":52.7},{"t":12.3,"v":37},{"t":12.36,"v":32.8},{"t":12.42,"v":22.9},{"t":12.48,"v":8.7},{"t":12.55,"v":0},{"t":12.92,"v":0},{"t":12.99,"v":19.4},{"t":13.05,"v":22.9},{"t":13.11,"v":30},{"t":13.18,"v":33.5},{"t":13.24,"v":38.5},{"t":13.3,"v":37.4},{"t":13.36,"v":32.8},{"t":13.43,"v":30.7},{"t":13.47,"v":35.7},{"t":13.52,"v":37.4},{"t":13.58,"v":38.5},{"t":13.64,"v":44.2},{"t":13.71,"v":47.7},{"t":13.76,"v":44.2},{"t":13.8,"v":43.5},{"t":13.86,"v":48.4},{"t":13.96,"v":49.9},{"t":14.05,"v":51.3},{"t":14.15,"v":56.2},{"t":14.24,"v":61.2},{"t":14.3,"v":61.9},{"t":14.37,"v":60.5},{"t":14.41,"v":51.3},{"t":14.46,"v":49.9},{"t":14.52,"v":47},{"t":14.59,"v":44.9},{"t":14.65,"v":43.5},{"t":14.72,"v":40.6},{"t":14.8,"v":37},{"t":14.89,"v":34.3},{"t":14.96,"v":32.8},{"t":15.04,"v":26.5},{"t":15.12,"v":19.4},{"t":15.2,"v":13.7},{"t":15.26,"v":8.7},{"t":15.33,"v":0},{"t":15.92,"v":0},{"t":15.97,"v":12.3},{"t":16.03,"v":19.4},{"t":16.1,"v":22.9},{"t":16.16,"v":24},{"t":16.22,"v":33.5},{"t":16.3,"v":40.6},{"t":16.38,"v":49.9},{"t":16.44,"v":52.7},{"t":16.5,"v":58.4},{"t":16.57,"v":63.3},{"t":16.66,"v":63.7},{"t":16.72,"v":59.8},{"t":16.79,"v":59},{"t":16.85,"v":57},{"t":16.91,"v":54.1},{"t":16.97,"v":49.9},{"t":17.02,"v":42.8},{"t":17.06,"v":40.6},{"t":17.1,"v":44.9},{"t":17.16,"v":47.7},{"t":17.23,"v":51.3},{"t":17.29,"v":57},{"t":17.35,"v":61.2},{"t":17.43,"v":65.5},{"t":17.5,"v":69.7},{"t":17.57,"v":71.1},{"t":17.63,"v":70.4},{"t":17.7,"v":66.9},{"t":17.77,"v":64},{"t":17.85,"v":61.2},{"t":17.93,"v":57},{"t":18.01,"v":52},{"t":18.06,"v":49.9},{"t":18.1,"v":51.3},{"t":18.17,"v":48.4},{"t":18.23,"v":49.9},{"t":18.29,"v":53.4},{"t":18.35,"v":56.2},{"t":18.42,"v":59.8},{"t":18.46,"v":59},{"t":18.5,"v":54.8},{"t":18.54,"v":58.4},{"t":18.61,"v":58.4},{"t":18.69,"v":58},{"t":18.73,"v":52.7},{"t":18.78,"v":44.2},{"t":18.81,"v":33.5},{"t":18.86,"v":26.5},{"t":18.9,"v":30},{"t":18.95,"v":37},{"t":19.0,"v":33.5},{"t":19.04,"v":26.5},{"t":19.09,"v":19.4},{"t":19.14,"v":13},{"t":19.17,"v":13},{"t":19.21,"v":22.9},{"t":19.26,"v":37},{"t":19.33,"v":49.9},{"t":19.39,"v":54.8},{"t":19.45,"v":59},{"t":19.5,"v":59},{"t":19.56,"v":57},{"t":19.63,"v":54.1},{"t":19.7,"v":52.7},{"t":19.77,"v":51.3},{"t":19.83,"v":44.2},{"t":19.89,"v":37},{"t":19.94,"v":31.4},{"t":19.98,"v":35},{"t":20.03,"v":33.5},{"t":20.08,"v":22.9},{"t":20.13,"v":15.8},{"t":20.19,"v":9.4},{"t":20.27,"v":8.7},{"t":20.36,"v":8.7},{"t":20.45,"v":8.4},{"t":20.55,"v":9.4},{"t":20.63,"v":10.1},{"t":20.67,"v":15.8},{"t":20.72,"v":22.9},{"t":20.77,"v":26.5},{"t":20.82,"v":27.2},{"t":20.86,"v":21.5},{"t":20.91,"v":15.1},{"t":20.96,"v":22.9},{"t":21.01,"v":30},{"t":21.06,"v":37},{"t":21.11,"v":40},{"t":21.16,"v":37},{"t":21.19,"v":30},{"t":21.24,"v":22.9},{"t":21.28,"v":17.2},{"t":21.33,"v":15.1},{"t":21.38,"v":22.9},{"t":21.43,"v":23.6},{"t":21.48,"v":19.4},{"t":21.52,"v":8.7},{"t":21.55,"v":0},{"t":23.06,"v":0},{"t":23.13,"v":13.4},{"t":23.19,"v":17.8},{"t":23.25,"v":21.2},{"t":23.31,"v":22.1},{"t":23.36,"v":26.4},{"t":23.44,"v":28.2},{"t":23.53,"v":28.6},{"t":23.6,"v":24.7},{"t":23.66,"v":23.4},{"t":23.72,"v":25.6},{"t":23.78,"v":26},{"t":23.85,"v":22.1},{"t":23.91,"v":18.6},{"t":23.97,"v":22.1},{"t":24.04,"v":30.8},{"t":24.12,"v":39.4},{"t":24.19,"v":46.4},{"t":24.29,"v":49},{"t":24.37,"v":51.6},{"t":24.43,"v":48.1},{"t":24.47,"v":39.4},{"t":24.52,"v":30.8},{"t":24.57,"v":23.8},{"t":24.63,"v":23.8},{"t":24.69,"v":30.8},{"t":24.76,"v":36.8},{"t":24.83,"v":35.1},{"t":24.88,"v":31},{"t":24.93,"v":26.4},{"t":24.98,"v":22.1},{"t":25.02,"v":16.9},{"t":25.08,"v":14.7},{"t":25.16,"v":16.5},{"t":25.25,"v":20.4},{"t":25.32,"v":26.4},{"t":25.38,"v":33.4},{"t":25.45,"v":37.7},{"t":25.51,"v":42.9},{"t":25.56,"v":47.2},{"t":25.6,"v":48.1},{"t":25.67,"v":56.8},{"t":25.73,"v":65.4},{"t":25.79,"v":74.1},{"t":25.89,"v":76.7},{"t":25.98,"v":78.4},{"t":26.07,"v":78},{"t":26.17,"v":77.1},{"t":26.23,"v":74.1},{"t":26.29,"v":72.8},{"t":26.36,"v":78.4},{"t":26.42,"v":87.1},{"t":26.48,"v":90.6},{"t":26.57,"v":90.6},{"t":26.64,"v":90.1},{"t":26.7,"v":85.4},{"t":26.77,"v":80.2},{"t":26.83,"v":81.9},{"t":26.9,"v":81},{"t":26.95,"v":74.1},{"t":27.02,"v":67.2},{"t":27.08,"v":58.5},{"t":27.13,"v":55},{"t":27.19,"v":53.3},{"t":27.27,"v":50.7},{"t":27.33,"v":48.5},{"t":27.39,"v":52.4},{"t":27.46,"v":54.2},{"t":27.51,"v":51.6},{"t":27.55,"v":41.2},{"t":27.59,"v":32.5},{"t":27.64,"v":30.8},{"t":27.69,"v":35.1},{"t":27.76,"v":43.8},{"t":27.82,"v":50.7},{"t":27.88,"v":56.8},{"t":27.94,"v":65.4},{"t":28.01,"v":69.8},{"t":28.07,"v":78.4},{"t":28.15,"v":88},{"t":28.21,"v":93.2},{"t":28.27,"v":101},{"t":28.33,"v":103.6},{"t":28.4,"v":109.6},{"t":28.49,"v":112.2},{"t":28.58,"v":113.5},{"t":28.66,"v":113.1},{"t":28.72,"v":111.4},{"t":28.77,"v":108.8},{"t":28.82,"v":107.9},{"t":28.89,"v":100.1},{"t":28.95,"v":95.8},{"t":29.01,"v":89.7},{"t":29.07,"v":82.8},{"t":29.12,"v":74.1},{"t":29.16,"v":63.7},{"t":29.2,"v":52.4},{"t":29.24,"v":46.4},{"t":29.29,"v":52.4},{"t":29.34,"v":63.7},{"t":29.39,"v":66.3},{"t":29.43,"v":62.8},{"t":29.47,"v":56.8},{"t":29.52,"v":39.4},{"t":29.58,"v":22.1},{"t":29.62,"v":15.2},{"t":29.68,"v":12.6},{"t":29.74,"v":10.8},{"t":29.81,"v":8.2},{"t":29.85,"v":0},{"t":30,"v":0}],
"notes": [{"note": "EPA: solid = FTP-75 city; dashed = HWFET highway. All speeds are displayed in km/h.", "e": "E", "vkx1": "V", "vkx2": "K", "vkx3": "X", "tag": "ELECTRIC VEHICLE KNOWLEDGE EXCHANGE"}]
},
"layer": [
  {
    "encoding": {
      "x": {"field": "t", "type": "quantitative", "scale": {"domain": [0, 32], "nice": false, "zero": false},
            "axis": {"values": [0, 5, 10, 15, 20, 25, 30], "title": "Test time (minutes)", "titleX": 811, "labelFlush": false, "labelPadding": 26, "titlePadding": 48, "grid": true}},
      "y": {"field": "v", "type": "quantitative", "scale": {"domain": [0, 140], "nice": false},
            "axis": {"values": [0, 20, 40, 60, 80, 100, 120, 140], "title": "Speed (km/h)", "labelFlush": false, "labelPadding": 20, "labelOffset": 7, "titlePadding": 26, "grid": true}}
    },
    "layer": [
      {"data": {"name": "wltc"}, "mark": {"type": "line", "strokeWidth": 2.8, "interpolate": "monotone", "strokeJoin": "round"},
       "encoding": {"color": {"datum": "WLTC Class 3", "type": "nominal",
          "scale": {"domain": ["WLTC Class 3", "EPA schedules", "CLTC-P"], "range": ["#f5f7fa", "#2563eb", "#e3202b"]},
          "legend": {"title": null, "orient": "none", "legendX": 467, "legendY": -82, "direction": "horizontal", "symbolType": "stroke", "symbolStrokeWidth": 4, "symbolSize": 2600, "symbolDash": [1, 0], "labelFontSize": 22, "labelColor": "#e6eaf0", "labelOffset": 13, "columnPadding": 56}}}},
      {"data": {"name": "ftp"}, "mark": {"type": "line", "strokeWidth": 2.8, "interpolate": "monotone", "strokeJoin": "round"},
       "encoding": {"color": {"datum": "EPA schedules", "type": "nominal"}}},
      {"data": {"name": "hwfet"}, "mark": {"type": "line", "strokeWidth": 2.8, "interpolate": "monotone", "strokeDash": [13, 7]},
       "encoding": {"color": {"datum": "EPA schedules", "type": "nominal"}}},
      {"data": {"name": "cltc"}, "mark": {"type": "line", "strokeWidth": 2.8, "interpolate": "monotone", "strokeJoin": "round"},
       "encoding": {"color": {"datum": "CLTC-P", "type": "nominal"}}}
    ]
  },
  {"data": {"name": "notes"}, "mark": {"type": "text", "align": "left", "baseline": "middle", "fontSize": 17.5, "color": "#939fb3"},
   "encoding": {"x": {"datum": 0, "type": "quantitative"}, "y": {"datum": -40.3, "type": "quantitative"}, "text": {"field": "note", "type": "nominal"}}},
  {"data": {"name": "notes"}, "mark": {"type": "text", "align": "center", "baseline": "middle", "fontSize": 48, "font": "DejaVu Sans", "fontWeight": "bold", "color": "#ff1a1a"},
   "encoding": {"x": {"datum": 27.88, "type": "quantitative"}, "y": {"datum": -40.1, "type": "quantitative"}, "text": {"field": "e", "type": "nominal"}}},
  {"data": {"name": "notes"}, "mark": {"type": "text", "align": "center", "baseline": "middle", "fontSize": 48, "font": "DejaVu Sans", "fontWeight": "bold", "color": "#d9dde3"},
   "encoding": {"x": {"datum": 29.04, "type": "quantitative"}, "y": {"datum": -40.1, "type": "quantitative"}, "text": {"field": "vkx1", "type": "nominal"}}},
  {"data": {"name": "notes"}, "mark": {"type": "text", "align": "center", "baseline": "middle", "fontSize": 48, "font": "DejaVu Sans", "fontWeight": "bold", "color": "#d9dde3"},
   "encoding": {"x": {"datum": 30.23, "type": "quantitative"}, "y": {"datum": -40.1, "type": "quantitative"}, "text": {"field": "vkx2", "type": "nominal"}}},
  {"data": {"name": "notes"}, "mark": {"type": "text", "align": "center", "baseline": "middle", "fontSize": 48, "font": "DejaVu Sans", "fontWeight": "bold", "color": "#d9dde3"},
   "encoding": {"x": {"datum": 31.47, "type": "quantitative"}, "y": {"datum": -40.1, "type": "quantitative"}, "text": {"field": "vkx3", "type": "nominal"}}},
  {"data": {"name": "notes"}, "mark": {"type": "text", "align": "center", "baseline": "middle", "fontSize": 10, "font": "DejaVu Sans", "fontWeight": "bold", "color": "#e5e7eb"},
   "encoding": {"x": {"datum": 29.72, "type": "quantitative"}, "y": {"datum": -46.2, "type": "quantitative"}, "text": {"field": "tag", "type": "nominal"}}}
]
}
